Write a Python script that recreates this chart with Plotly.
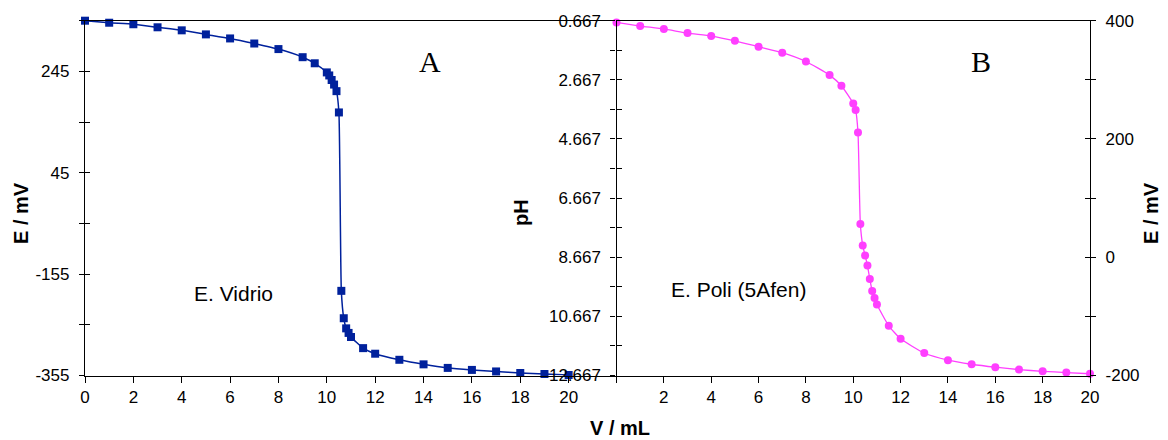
import plotly.graph_objects as go

# ---- data ----
vol_vidrio = [0, 1, 2, 3, 4, 5, 6, 7, 8, 9, 9.5, 10, 10.1, 10.2, 10.3, 10.4, 10.5,
              10.6, 10.7, 10.8, 10.9, 11, 11.5, 12, 13, 14, 15, 16, 17, 18, 19, 20]
e_vidrio = [345, 341, 338, 332, 326, 318, 310, 300, 289, 273, 261, 243, 237, 228, 219, 206, 164,
            -188, -242, -262, -271, -279, -301, -312, -324, -333, -340, -344, -347, -350, -352, -354]

vol_poli = [0, 1, 2, 3, 4, 5, 6, 7, 8, 9, 9.5, 10, 10.1, 10.2, 10.3, 10.4, 10.5,
            10.6, 10.7, 10.8, 10.9, 11, 11.5, 12, 13, 14, 15, 16, 17, 18, 19, 20]
e_poli = [397, 391, 386, 379, 374, 366, 356, 346, 331, 308, 290, 260, 249, 211, 56, 20, 3,
          -14, -37, -57, -69, -80, -116, -138, -162, -174, -181, -186, -190, -193, -195, -197]

left_e_ticks = [-355, -255, -155, -55, 45, 145, 245, 345]
left_e_labels = ["-355", "", "-155", "", "45", "", "245", ""]
x_left_ticks = [0, 2, 4, 6, 8, 10, 12, 14, 16, 18, 20]
x_right_ticks = [0, 2, 4, 6, 8, 10, 12, 14, 16, 18, 20]
x_right_labels = ["", "2", "4", "6", "8", "10", "12", "14", "16", "18", "20"]
ph_ticks = [0.667 + k for k in range(13)]
ph_labels = [("%.3f" % v) if k % 2 == 0 else "" for k, v in enumerate(ph_ticks)]
right_e_ticks = [-200, -100, 0, 100, 200, 300, 400]
right_e_labels = ["-200", "", "0", "", "200", "", "400"]

W, H = 1168, 440
def fx(px): return px / W
def fy(py): return 1 - py / H

BLUE = "#00219C"
PINK = "#FF3FFF"
FONT = "Liberation Sans, Arial, sans-serif"
TICKFONT = dict(family=FONT, size=17, color="black")

fig = go.Figure()
# empty helper traces so every axis gets drawn
for xa, ya in [("x", "y6"), ("x2", "y2"), ("x2", "y4"), ("x2", "y5")]:
    fig.add_trace(go.Scatter(x=[], y=[], xaxis=xa, yaxis=ya, showlegend=False, hoverinfo="skip"))

fig.add_trace(go.Scatter(x=vol_vidrio, y=e_vidrio, xaxis="x", yaxis="y",
                         mode="lines+markers", line=dict(color=BLUE, width=1.5, shape="spline", smoothing=0.5),
                         marker=dict(symbol="square", size=8, color=BLUE), cliponaxis=False, showlegend=False))
fig.add_trace(go.Scatter(x=vol_poli, y=e_poli, xaxis="x2", yaxis="y3",
                         mode="lines+markers", line=dict(color=PINK, width=1.3, shape="spline", smoothing=0.5),
                         marker=dict(symbol="circle", size=8, color=PINK), cliponaxis=False, showlegend=False))

ydom = [fy(375.5), fy(20.7)]
base = dict(showgrid=False, zeroline=False, automargin=False)
line = dict(showline=True, linecolor="black", linewidth=1.3)

fig.update_layout(
    width=W, height=H, margin=dict(l=0, r=0, t=0, b=0, autoexpand=False),
    paper_bgcolor="white", plot_bgcolor="rgba(0,0,0,0)",
    font=dict(family=FONT, color="black"),
    xaxis=dict(domain=[fx(85), fx(617)], range=[0, 22], anchor="y",
               tickmode="array", tickvals=x_left_ticks, ticks="outside", ticklen=6,
               tickcolor="black", tickfont=TICKFONT, mirror=True, **line, **base),
    xaxis2=dict(domain=[fx(616.5), fx(1090)], range=[0, 20], anchor="y2",
                tickmode="array", tickvals=x_right_ticks, ticktext=x_right_labels,
                ticks="outside", ticklen=6, tickcolor="black", tickfont=TICKFONT, mirror=True, **line, **base),
    yaxis=dict(domain=ydom, range=[-355, 345], anchor="x",
               tickmode="array", tickvals=left_e_ticks, ticktext=left_e_labels,
               ticks="outside", ticklen=5, tickcolor="black", tickfont=TICKFONT,
               ticklabelstandoff=6, **line, **base),
    yaxis6=dict(domain=ydom, range=[-355, 345], overlaying="y", anchor="x", side="left",
                tickmode="array", tickvals=left_e_ticks, showticklabels=False,
                ticks="inside", ticklen=5, tickcolor="black", showline=False, **base),
    yaxis2=dict(domain=ydom, range=[12.667, 0.667], anchor="x2", side="left",
                tickmode="array", tickvals=ph_ticks, ticktext=ph_labels,
                ticks="outside", ticklen=5, tickcolor="black", tickfont=TICKFONT,
                ticklabelstandoff=6, **line, **base),
    yaxis4=dict(domain=ydom, range=[12.667, 0.667], overlaying="y2", anchor="x2", side="left",
                tickmode="array", tickvals=ph_ticks, showticklabels=False,
                ticks="inside", ticklen=5, tickcolor="black", showline=False, **base),
    yaxis3=dict(domain=ydom, range=[-200, 400], overlaying="y2", anchor="x2", side="right",
                tickmode="array", tickvals=right_e_ticks, ticktext=right_e_labels,
                ticks="outside", ticklen=5, tickcolor="black", tickfont=TICKFONT,
                ticklabelstandoff=6, **line, **base),
    yaxis5=dict(domain=ydom, range=[-200, 400], overlaying="y2", anchor="x2", side="right",
                tickmode="array", tickvals=right_e_ticks, showticklabels=False,
                ticks="inside", ticklen=5, tickcolor="black", showline=False, **base),
)

def ann(text, x, y, size, bold=False, family=FONT, angle=0):
    fig.add_annotation(text=("<b>%s</b>" % text) if bold else text, x=fx(x), y=fy(y),
                       xref="paper", yref="paper", showarrow=False, textangle=angle,
                       font=dict(family=family, size=size, color="black"),
                       xanchor="center", yanchor="middle")

ann("E / mV", 21, 213, 20, bold=True, angle=-90)
ann("pH", 521, 213, 20, bold=True, angle=-90)
ann("E / mV", 1151, 213, 20, bold=True, angle=-90)
ann("V / mL", 620, 428, 20, bold=True)
ann("A", 430, 62, 30, family="Liberation Serif, Times New Roman, serif")
ann("B", 981, 62, 30, family="Liberation Serif, Times New Roman, serif")
ann("E. Vidrio", 233, 293, 21)
ann("E. Poli (5Afen)", 738, 289, 21)

fig.write_html("out.html", config={"displayModeBar": False},
               post_script="document.body.style.margin='0px';document.body.style.overflow='hidden';")
